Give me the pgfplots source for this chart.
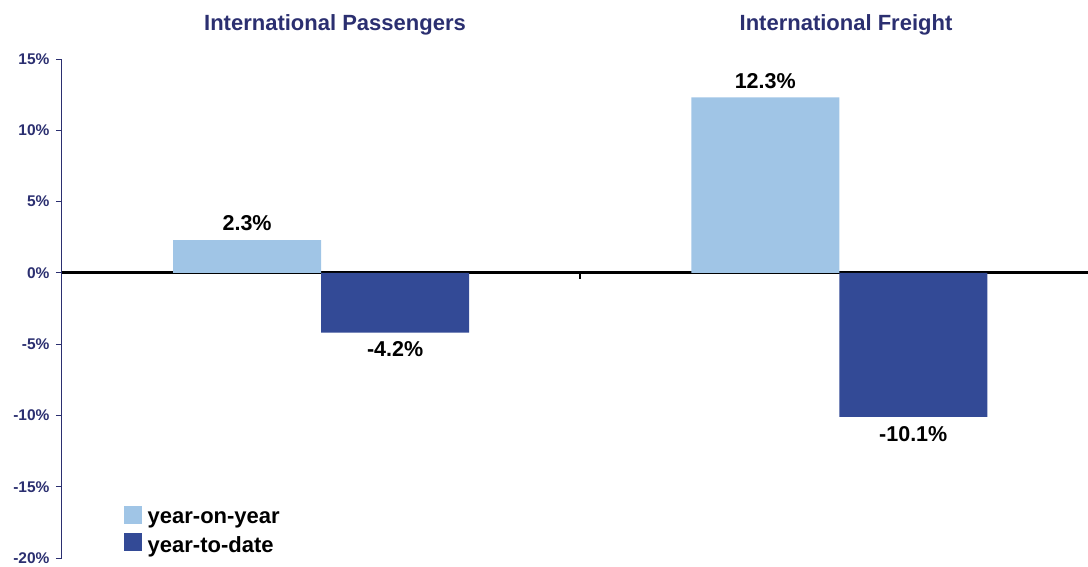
\documentclass[border=0pt]{standalone}
\usepackage{pgfplots}
\pgfplotsset{compat=1.18}
\usepackage{fontspec}
\setmainfont{Liberation Sans}
\definecolor{lightbar}{RGB}{160,197,230}
\definecolor{darkbar}{RGB}{51,74,150}
\definecolor{navy}{RGB}{43,47,112}
\begin{document}
\begin{tikzpicture}[x=1pt,y=1pt]
\begin{axis}[
  at={(62pt,8pt)}, anchor=south west,
  scale only axis, width=1026pt, height=499pt,
  xmin=-0.5, xmax=1.48, ymin=-20, ymax=15,
  axis y line*=left, axis x line*=middle,
  y axis line style={navy, line width=1pt},
  x axis line style={black, line width=2.8pt},
  ytick={-20,-15,...,15},
  yticklabel={\pgfmathprintnumber{\tick}\%},
  yticklabel style={font=\bfseries\fontsize{15.5}{17}\selectfont, text=navy, xshift=-3pt},
  /pgf/number format/assume math mode=true,
  y tick style={navy, line width=1pt},
  xtick={0.5}, xticklabels={},
  x tick style={black, line width=2.4pt},
  tick align=outside, major tick length=6pt,
  ybar=0pt, bar width=148pt,
  nodes near coords={\pgfmathprintnumber[fixed,fixed zerofill,precision=1]{\pgfplotspointmeta}\%},
  nodes near coords style={font=\bfseries\fontsize{21.5}{23}\selectfont, text=black, inner sep=9pt},
  legend style={at={(0.057,0.0)}, anchor=south west, draw=none, fill=none,
    font=\bfseries\fontsize{22}{24}\selectfont, row sep=6pt},
  legend cell align=left,
  legend image code/.code={\fill[#1] (0pt,-6pt) rectangle (18pt,12pt); \path (22pt,0pt);},
  clip=false,
]
\addplot[fill=lightbar, draw=none] coordinates {(0,2.3) (1,12.3)};
\addplot[fill=darkbar, draw=none] coordinates {(0,-4.2) (1,-10.1)};
\legend{year-on-year, year-to-date}
\end{axis}
\node[font=\bfseries\fontsize{22}{24}\selectfont, text=navy] at (335pt,541pt) {International Passengers};
\node[font=\bfseries\fontsize{22}{24}\selectfont, text=navy] at (846pt,541pt) {International Freight};
\pgfresetboundingbox
\path[use as bounding box] (0,0) rectangle (1088pt,566pt);
\end{tikzpicture}
\end{document}
